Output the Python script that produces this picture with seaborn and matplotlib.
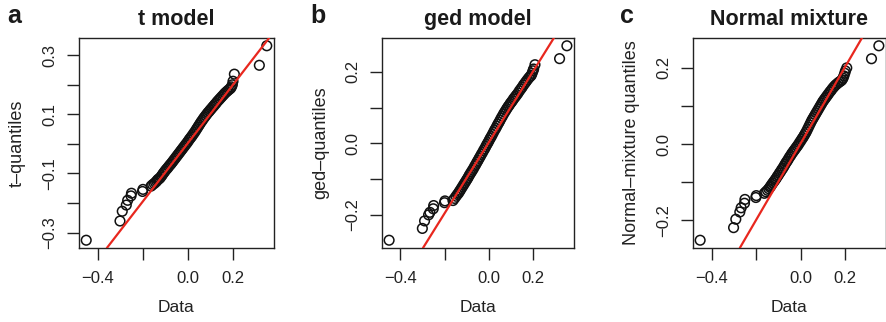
import matplotlib
matplotlib.use("Agg")
import matplotlib.pyplot as plt
import seaborn as sns

# sorted returns ("Data"), shared by the three QQ panels
X_DATA = [-0.451, -0.301, -0.291, -0.273, -0.267, -0.252, -0.250, -0.201, -0.199,
          -0.163, -0.156, -0.149, -0.143, -0.138, -0.134, -0.130,
          -0.125, -0.120, -0.115, -0.110, -0.105, -0.100, -0.095, -0.090, -0.085, -0.080,
          -0.075, -0.070, -0.065, -0.060, -0.055, -0.050, -0.045, -0.040, -0.035, -0.030,
          -0.025, -0.020, -0.015, -0.010, -0.005, 0.000,
          0.005, 0.010, 0.015, 0.020, 0.025, 0.030, 0.035, 0.040, 0.045, 0.050,
          0.055, 0.060, 0.065, 0.070, 0.075, 0.080, 0.085, 0.090, 0.095, 0.100,
          0.105, 0.110, 0.115, 0.120, 0.125,
          0.131, 0.137, 0.143, 0.149, 0.155, 0.161, 0.167, 0.173, 0.179, 0.185,
          0.190, 0.194, 0.198, 0.201, 0.207,
          0.318, 0.351]

Y_T = [-0.326, -0.261, -0.228, -0.207, -0.191, -0.176, -0.167, -0.161, -0.154,
       -0.143, -0.138, -0.134, -0.130, -0.126, -0.122, -0.119,
       -0.117, -0.112, -0.107, -0.101, -0.096, -0.091, -0.086, -0.082, -0.077, -0.072,
       -0.068, -0.063, -0.058, -0.053, -0.048, -0.043, -0.038, -0.033, -0.028, -0.023,
       -0.018, -0.013, -0.008, -0.003, 0.002, 0.007,
       0.013, 0.018, 0.023, 0.028, 0.034, 0.039, 0.045, 0.051, 0.057, 0.063,
       0.069, 0.075, 0.080, 0.086, 0.091, 0.096, 0.101, 0.106, 0.110, 0.115,
       0.119, 0.124, 0.128, 0.133, 0.137,
       0.143, 0.148, 0.153, 0.158, 0.163, 0.168, 0.173, 0.177, 0.181, 0.185,
       0.188, 0.193, 0.200, 0.212, 0.236,
       0.266, 0.332]

Y_GED = [-0.271, -0.238, -0.217, -0.200, -0.193, -0.183, -0.174, -0.166, -0.161,
         -0.160, -0.154, -0.148, -0.143, -0.139, -0.135, -0.131,
         -0.126, -0.121, -0.116, -0.111, -0.106, -0.101, -0.096, -0.090, -0.085, -0.080,
         -0.075, -0.070, -0.064, -0.059, -0.053, -0.048, -0.042, -0.037, -0.031, -0.026,
         -0.020, -0.015, -0.009, -0.003, 0.002, 0.008,
         0.014, 0.019, 0.025, 0.031, 0.037, 0.042, 0.048, 0.054, 0.059, 0.065,
         0.071, 0.076, 0.082, 0.087, 0.092, 0.097, 0.102, 0.106, 0.111, 0.115,
         0.119, 0.124, 0.128, 0.132, 0.136,
         0.141, 0.147, 0.152, 0.157, 0.163, 0.168, 0.173, 0.178, 0.183, 0.187,
         0.190, 0.196, 0.203, 0.208, 0.220,
         0.237, 0.273]

Y_MIX = [-0.252, -0.219, -0.197, -0.178, -0.167, -0.155, -0.145, -0.140, -0.135,
         -0.129, -0.125, -0.121, -0.117, -0.113, -0.110, -0.106,
         -0.102, -0.098, -0.094, -0.090, -0.085, -0.081, -0.076, -0.072, -0.067, -0.063,
         -0.058, -0.053, -0.048, -0.044, -0.039, -0.034, -0.030, -0.025, -0.021, -0.017,
         -0.013, -0.009, -0.005, -0.001, 0.004, 0.008,
         0.013, 0.017, 0.022, 0.027, 0.032, 0.038, 0.044, 0.050, 0.056, 0.062,
         0.067, 0.072, 0.077, 0.082, 0.087, 0.092, 0.097, 0.102, 0.107, 0.112,
         0.116, 0.120, 0.124, 0.128, 0.132,
         0.137, 0.141, 0.146, 0.150, 0.154, 0.157, 0.160, 0.163, 0.165, 0.168,
         0.173, 0.179, 0.186, 0.192, 0.200,
         0.224, 0.258]

# reference lines (intercept, slope)
LINES = [(0.002, 0.986), (0.004, 0.995), (0.002, 1.005)]

TITLES = ["t model", "ged model", "Normal mixture"]
LETTERS = ["a", "b", "c"]
YLABELS = ["t\u2013quantiles", "ged\u2013quantiles", "Normal\u2013mixture quantiles"]

X_TICKS = [-0.4, -0.2, 0.0, 0.2]
X_TICK_LABELS = ["\u22120.4", "", "0.0", "0.2"]
Y_TICKS = [[-0.3, -0.2, -0.1, 0.0, 0.1, 0.2, 0.3],
           [-0.2, -0.1, 0.0, 0.1, 0.2],
           [-0.2, -0.1, 0.0, 0.1, 0.2]]
Y_TICK_LABELS = [["\u22120.3", "", "\u22120.1", "", "0.1", "", "0.3"],
                 ["\u22120.2", "", "0.0", "", "0.2"],
                 ["\u22120.2", "", "0.0", "", "0.2"]]

sns.set_style("white")
plt.rcParams["font.family"] = ["Liberation Sans", "DejaVu Sans"]

fig = plt.figure(figsize=(8.87, 3.22), dpi=100)
W, H = 887.0, 322.0
# axes boxes in pixels: left, right
boxes = [(79, 274), (382, 574), (693, 886)]
top_px, bot_px = 38, 248
letter_x = [7, 310, 620]

for i, yvals in enumerate([Y_T, Y_GED, Y_MIX]):
    l, r = boxes[i]
    ax = fig.add_axes([l / W, 1 - bot_px / H, (r - l) / W, (bot_px - top_px) / H])
    sns.scatterplot(x=X_DATA, y=yvals, ax=ax, marker="o", s=48,
                    facecolor="none", edgecolor="black", linewidth=1.1, zorder=2)
    ax.collections[0].set_facecolor("none")
    ax.collections[0].set_edgecolor("#111111")
    b0, b1 = LINES[i]
    ax.axline((0.0, b0), slope=b1, color="#e8271e", linewidth=1.6, zorder=3)
    ax.margins(0.04)

    ax.set_xticks(X_TICKS)
    ax.set_xticklabels(X_TICK_LABELS)
    ax.set_yticks(Y_TICKS[i])
    ax.set_yticklabels(Y_TICK_LABELS[i], rotation=90, va="center")
    ax.tick_params(axis="both", direction="out", length=8.5, width=1.0,
                   color="#222222", labelsize=12, labelcolor="#222222")
    ax.tick_params(axis="x", pad=8)
    ax.tick_params(axis="y", pad=7)
    ax.tick_params(left=True, bottom=True)
    for sp in ax.spines.values():
        sp.set_visible(True)
        sp.set_color("#222222")
        sp.set_linewidth(1.0)

    ax.set_xlabel("Data", fontsize=12.5, color="#222222")
    ax.xaxis.set_label_coords(0.5, -0.248)
    ax.set_ylabel(YLABELS[i], fontsize=13, color="#222222")
    ax.yaxis.set_label_coords(-0.275, 0.5)

    fig.text(((l + r) / 2) / W, 1 - 25 / H, TITLES[i], ha="center", va="baseline",
             fontsize=15.5, fontweight="bold", color="#1a1a1a")
    fig.text(letter_x[i] / W, 1 - 23 / H, LETTERS[i], ha="left", va="baseline",
             fontsize=18, fontweight="bold", color="#1a1a1a")

fig.savefig("out.png", dpi=100)
